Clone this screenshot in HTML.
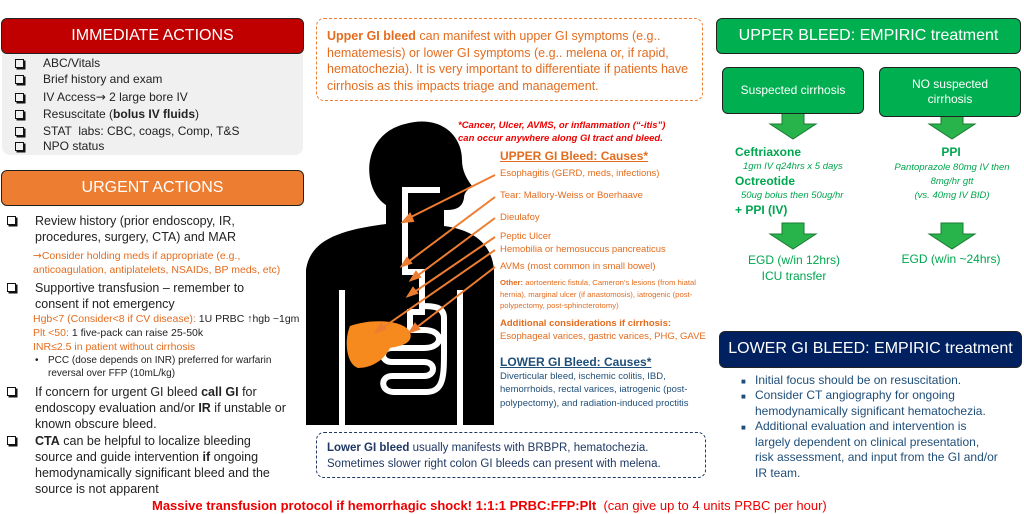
<!DOCTYPE html>
<html><head><meta charset="utf-8"><style>
*{margin:0;padding:0;box-sizing:border-box}
body{width:1024px;height:514px;background:#fff;position:relative;overflow:hidden;font-family:"Liberation Sans",sans-serif;color:#222}
.a{position:absolute;white-space:nowrap}
.hdr{position:absolute;border:1.5px solid #222;border-radius:6px;color:#fff;font-size:16px;text-align:center}
.cb{position:absolute;width:9px;height:9px;border:1.5px solid #111;box-shadow:1.5px 1.5px 0 #111}
.o{color:#e46c1e}
.g{color:#00a64f}
</style></head><body>

<!-- IMMEDIATE -->
<div class="a" style="left:2px;top:50px;width:301px;height:105px;background:#f0f0f0;border-radius:0 0 8px 8px"></div>
<div class="hdr" style="left:1px;top:18px;width:303px;height:36px;background:#c00000;line-height:33px">IMMEDIATE ACTIONS</div>
<div style="font-size:12px;line-height:17px">
<div class="cb" style="left:15px;top:59px"></div><div class="a" style="left:43px;top:55px">ABC/Vitals</div>
<div class="cb" style="left:15px;top:75px"></div><div class="a" style="left:43px;top:71px">Brief history and exam</div>
<div class="cb" style="left:15px;top:93px"></div><div class="a" style="left:43px;top:89px">IV Access<span style="font-family:'DejaVu Sans'">→</span> 2 large bore IV</div>
<div class="cb" style="left:15px;top:110px"></div><div class="a" style="left:43px;top:106px">Resuscitate (<b>bolus IV fluids</b>)</div>
<div class="cb" style="left:15px;top:127px"></div><div class="a" style="left:43px;top:123px">STAT &nbsp;labs: CBC, coags, Comp, T&amp;S</div>
<div class="cb" style="left:15px;top:142px"></div><div class="a" style="left:43px;top:138px">NPO status</div>
</div>

<!-- URGENT -->
<div class="hdr" style="left:1px;top:170px;width:303px;height:36px;background:#ed7d31;line-height:33px">URGENT ACTIONS</div>
<div style="font-size:12.5px;line-height:16px">
<div class="cb" style="left:7px;top:216px"></div>
<div class="a" style="left:35px;top:213px">Review history (prior endoscopy, IR,<br>procedures, surgery, CTA) and MAR</div>
<div class="a o" style="left:33px;top:249px;font-size:10.5px;line-height:14px"><span style="font-family:'DejaVu Sans'">→</span>Consider holding meds if appropriate (e.g.,<br>anticoagulation, antiplatelets, NSAIDs, BP meds, etc)</div>
<div class="cb" style="left:7px;top:283px"></div>
<div class="a" style="left:35px;top:280px">Supportive transfusion – remember to<br>consent if not emergency</div>
<div class="a" style="left:33px;top:312px;font-size:10.5px;line-height:14px"><span class="o">Hgb&lt;7 (Consider&lt;8 if CV disease):</span> 1U PRBC ↑hgb ~1gm<br><span class="o">Plt &lt;50:</span> 1 five-pack can raise 25-50k<br><span class="o">INR≤2.5 in patient without cirrhosis</span></div>
<div class="a" style="left:35px;top:354px;font-size:10px;line-height:13px">•</div>
<div class="a" style="left:48px;top:354px;font-size:10px;line-height:13px">PCC (dose depends on INR) preferred for warfarin<br>reversal over FFP (10mL/kg)</div>
<div class="cb" style="left:7px;top:387px"></div>
<div class="a" style="left:35px;top:384px">If concern for urgent GI bleed <b>call GI</b> for<br>endoscopy evaluation and/or <b>IR</b> if unstable or<br>known obscure bleed.</div>
<div class="cb" style="left:7px;top:436px"></div>
<div class="a" style="left:35px;top:433px"><b>CTA</b> can be helpful to localize bleeding<br>source and guide intervention <b>if</b> ongoing<br>hemodynamically significant bleed and the<br>source is not apparent</div>
</div>

<!-- Upper GI dashed -->
<div class="a" style="left:316px;top:18px;width:387px;height:83px;border:1.5px dashed #ed7d31;border-radius:8px"></div>
<div class="a o" style="left:327px;top:28px;font-size:12.5px;line-height:16.5px"><b>Upper GI bleed</b> can manifest with upper GI symptoms (e.g..<br>hematemesis) or lower GI symptoms (e.g.. melena or, if rapid,<br>hematochezia). It is very important to differentiate if patients have<br>cirrhosis as this impacts triage and management.</div>

<!-- silhouette -->
<svg class="a" style="left:0;top:0" width="1024" height="514">
<path d="M405 124 C440 114 462 135 462 160 C462 170 466 178 472 186 C468 190 464 192 464 198 C462 210 452 210 444 210 L444 226 C475 230 492 245 494 270 L494 425 L463 425 L463 290 L457 290 L457 425 L345 425 L345 290 L339 290 L339 425 L306 425 L306 270 C310 240 340 230 386 224 L386 205 C362 190 360 135 405 124 Z" fill="#000"/>
<path d="M402 190 L440 190 M405 190 L405 272 L422 272 L422 312 L410 312 L410 330 L424 330 C444 330 444 348 424 348 L392 348 C380 348 380 362 392 362 L424 362 C436 362 436 376 424 376 L392 376 C380 376 380 392 394 392 L426 392 C444 392 444 376 444 350 L444 318 C444 306 432 306 422 306" fill="none" stroke="#fff" stroke-width="6"/>
<path d="M350 326 C372 318 404 320 410 332 C414 344 400 346 390 348 C384 360 372 368 358 368 C346 364 344 340 350 326 Z" fill="#f68a1f"/>
<g stroke="#ed7d31" stroke-width="2" fill="#ed7d31">
<line x1="495" y1="175" x2="405" y2="220"/><polygon points="403,222 410,214 413,221"/>
<line x1="495" y1="197" x2="404" y2="265"/><polygon points="402,266 407,258 411,263"/>
<line x1="495" y1="218" x2="413" y2="279"/><polygon points="411,280 416,272 420,277"/>
<line x1="495" y1="237" x2="410" y2="295"/><polygon points="408,296 413,288 417,293"/>
<line x1="495" y1="250" x2="378" y2="331"/><polygon points="376,332 381,324 385,329"/>
<line x1="495" y1="267" x2="412" y2="331"/><polygon points="410,332 415,324 419,329"/>
</g>
<g fill="#28b44a" stroke="#1a7a33" stroke-width="1">
<polygon points="782,113 804,113 804,124 816,124 793,139 770,124 782,124"/>
<polygon points="941,116 963,116 963,124 975,124 952,139 929,124 941,124"/>
<polygon points="782,223 804,223 804,234 816,234 793,249 770,234 782,234"/>
<polygon points="941,223 963,223 963,234 975,234 952,249 929,234 941,234"/>
</g>
</svg>

<div class="a" style="left:458px;top:119px;font-size:9.5px;line-height:13px;color:#e00;font-weight:bold;font-style:italic">*Cancer, Ulcer, AVMS, or inflammation (“-itis”)<br>can occur anywhere along GI tract and bleed.</div>
<div class="a o" style="left:500px;top:149px;font-size:12px;font-weight:bold;text-decoration:underline">UPPER GI Bleed: Causes*</div>
<div class="o" style="font-size:9.5px">
<div class="a" style="left:500px;top:168px">Esophagitis (GERD, meds, infections)</div>
<div class="a" style="left:500px;top:190px">Tear: Mallory-Weiss or Boerhaave</div>
<div class="a" style="left:500px;top:212px">Dieulafoy</div>
<div class="a" style="left:500px;top:231px">Peptic Ulcer</div>
<div class="a" style="left:500px;top:244px">Hemobilia or hemosuccus pancreaticus</div>
<div class="a" style="left:500px;top:261px">AVMs (most common in small bowel)</div>
<div class="a" style="left:500px;top:277px;font-size:7.7px;line-height:11.5px"><b>Other:</b> aortoenteric fistula, Cameron’s lesions (from hiatal<br>hernia), marginal ulcer (if anastomosis), iatrogenic (post-<br>polypectomy, post-sphincterotomy)</div>
<div class="a" style="left:500px;top:317px;line-height:13px"><b>Additional considerations if cirrhosis:</b><br>Esophageal varices, gastric varices, PHG, GAVE</div>
</div>
<div class="a" style="left:500px;top:355px;font-size:12px;font-weight:bold;text-decoration:underline;color:#1f4e79">LOWER GI Bleed: Causes*</div>
<div class="a" style="left:500px;top:370px;font-size:9.5px;line-height:13.3px;color:#1f4e79">Diverticular bleed, ischemic colitis, IBD,<br>hemorrhoids, rectal varices, iatrogenic (post-<br>polypectomy), and radiation-induced proctitis</div>

<!-- Lower GI dashed -->
<div class="a" style="left:316px;top:432px;width:390px;height:46px;border:1.5px dashed #1f3864;border-radius:8px"></div>
<div class="a" style="left:327px;top:440px;font-size:11.5px;line-height:16px;color:#1f3864"><b>Lower GI bleed</b> usually manifests with BRBPR, hematochezia.<br>Sometimes slower right colon GI bleeds can present with melena.</div>

<!-- Upper empiric -->
<div class="hdr" style="left:716px;top:18px;width:305px;height:36px;background:#00b050;line-height:33px">UPPER BLEED: EMPIRIC treatment</div>
<div class="hdr" style="left:722px;top:67px;width:142px;height:47px;background:#00b050;font-size:12px;line-height:44px">Suspected cirrhosis</div>
<div class="hdr" style="left:879px;top:67px;width:142px;height:50px;background:#00b050;font-size:12px;line-height:15px;padding-top:9px">NO suspected<br>cirrhosis</div>
<div class="a g" style="left:735px;top:145px;font-size:12px;font-weight:bold">Ceftriaxone</div>
<div class="a g" style="left:743px;top:161px;font-size:9.5px;font-style:italic">1gm IV q24hrs x 5 days</div>
<div class="a g" style="left:735px;top:174px;font-size:12px;font-weight:bold">Octreotide</div>
<div class="a g" style="left:741px;top:190px;font-size:9.5px;font-style:italic">50ug bolus then 50ug/hr</div>
<div class="a g" style="left:735px;top:203px;font-size:12px;font-weight:bold">+ PPI (IV)</div>
<div class="a g" style="left:880px;top:145px;width:142px;text-align:center;font-size:12px;font-weight:bold">PPI</div>
<div class="a g" style="left:868px;top:161px;width:168px;text-align:center;font-size:9.5px;font-style:italic;line-height:14px">Pantoprazole 80mg IV then<br>8mg/hr gtt<br>(vs. 40mg IV BID)</div>
<div class="a g" style="left:723px;top:252px;width:142px;text-align:center;font-size:12px;line-height:16px">EGD (w/in 12hrs)<br>ICU transfer</div>
<div class="a g" style="left:880px;top:252px;width:142px;text-align:center;font-size:12px">EGD (w/in ~24hrs)</div>

<!-- Lower empiric -->
<div class="hdr" style="left:719px;top:331px;width:303px;height:37px;background:#002060;line-height:34px">LOWER GI BLEED: EMPIRIC treatment</div>
<div style="color:#1f4e79;font-size:12px;line-height:15.5px">
<div class="a" style="left:741px;top:374px;font-size:8px">■</div><div class="a" style="left:755px;top:373px">Initial focus should be on resuscitation.</div>
<div class="a" style="left:741px;top:389px;font-size:8px">■</div><div class="a" style="left:755px;top:388px">Consider CT angiography for ongoing<br>hemodynamically significant hematochezia.</div>
<div class="a" style="left:741px;top:420px;font-size:8px">■</div><div class="a" style="left:755px;top:419px">Additional evaluation and intervention is<br>largely dependent on clinical presentation,<br>risk assessment, and input from the GI and/or<br>IR team.</div>
</div>

<div class="a" style="left:152px;top:498px;font-size:13px;color:#e00"><b>Massive transfusion protocol if hemorrhagic shock! 1:1:1 PRBC:FFP:Plt</b> &nbsp;(can give up to 4 units PRBC per hour)</div>
</body></html>
